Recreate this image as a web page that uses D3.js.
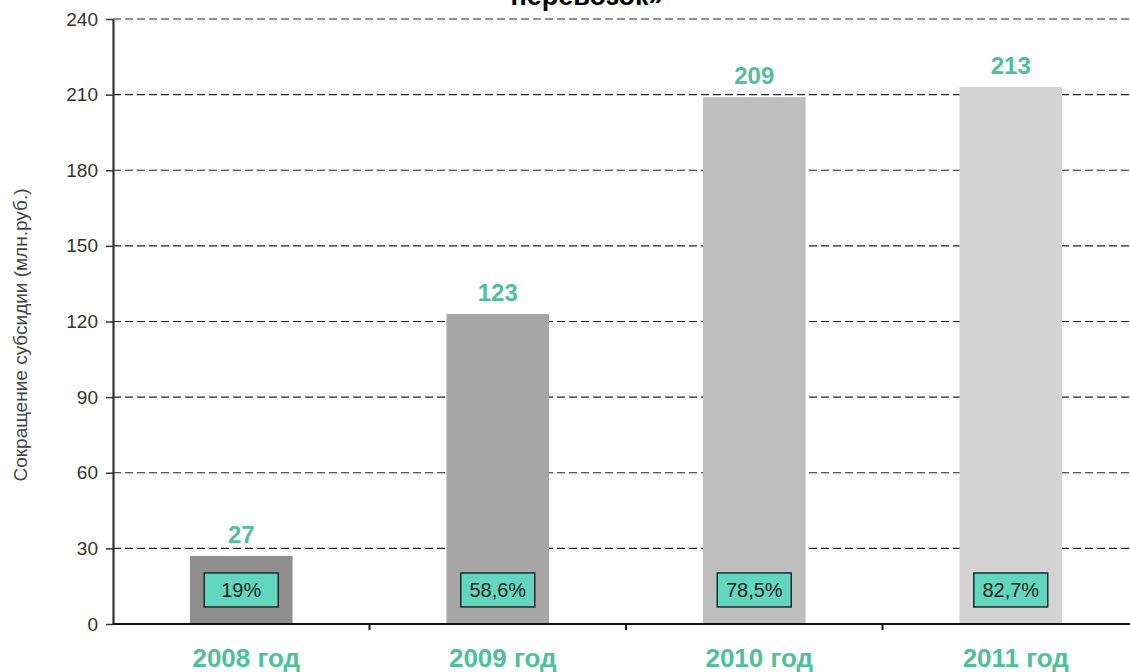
<!DOCTYPE html>
<html lang="ru">
<head>
<meta charset="utf-8">
<title>Сокращение субсидии</title>
<script src="https://d3js.org/d3.v7.min.js"></script>
<style>
  body { margin: 0; background: #fff; }
  svg { display: block; font-family: "Liberation Sans", Arial, sans-serif; }
</style>
</head>
<body>
<svg id="chart"></svg>
<script>
const width = 1130;
const height = 672;

const years = ["2008 год", "2009 год", "2010 год", "2011 год"];
const subsidyCut = [27, 123, 209, 213];
const shares = ["19%", "58,6%", "78,5%", "82,7%"];
const barColors = ["#8e8e8e", "#a6a6a6", "#bebebe", "#d3d3d3"];
const yTicks = [0, 30, 60, 90, 120, 150, 180, 210, 240];

const svg = d3.select("#chart")
    .attr("width", width)
    .attr("height", height);

const x = d3.scaleBand()
    .domain(years)
    .range([113, 1139])
    .paddingInner(0.6)
    .paddingOuter(0.3);

const y = d3.scaleLinear()
    .domain([0, 240])
    .range([624, 19]);

// title, only the last line fits into the picture
svg.append("text")
    .attr("x", 587)
    .attr("y", 5)
    .attr("text-anchor", "middle")
    .attr("font-size", 27)
    .attr("font-weight", "bold")
    .attr("fill", "#000")
    .text("перевозок»");

// dashed grid
svg.append("g")
    .selectAll("line")
    .data(yTicks.filter(d => d > 0))
    .enter()
    .append("line")
    .attr("x1", 113)
    .attr("x2", 1130)
    .attr("y1", d => y(d))
    .attr("y2", d => y(d))
    .attr("stroke", "#222")
    .attr("stroke-width", 1.2)
    .attr("stroke-dasharray", "8,4");

// bars
svg.append("g")
    .selectAll("rect")
    .data(subsidyCut)
    .enter()
    .append("rect")
    .attr("x", (d, i) => x(years[i]))
    .attr("y", d => y(d))
    .attr("width", x.bandwidth())
    .attr("height", d => y(0) - y(d))
    .attr("fill", (d, i) => barColors[i]);

// value labels above the bars
svg.append("g")
    .selectAll("text")
    .data(subsidyCut)
    .enter()
    .append("text")
    .attr("x", (d, i) => x(years[i]) + x.bandwidth() / 2)
    .attr("y", d => y(d) - 13)
    .attr("text-anchor", "middle")
    .attr("font-size", 24)
    .attr("font-weight", "bold")
    .attr("fill", "#4fbf9c")
    .text(d => d);

// percent boxes inside bars
const boxes = svg.append("g")
    .selectAll("g")
    .data(shares)
    .enter()
    .append("g")
    .attr("transform", (d, i) => `translate(${x(years[i]) + x.bandwidth() / 2}, ${y(13.5)})`);

boxes.append("rect")
    .attr("x", -37)
    .attr("y", -17)
    .attr("width", 74)
    .attr("height", 34)
    .attr("fill", "#63d6bf")
    .attr("stroke", "#1e2b28")
    .attr("stroke-width", 1.5);

boxes.append("text")
    .attr("y", 7)
    .attr("text-anchor", "middle")
    .attr("font-size", 20)
    .attr("fill", "#1c2422")
    .text(d => d);

// y axis
const yAxis = svg.append("g")
    .attr("transform", "translate(113,0)")
    .call(d3.axisLeft(y).tickValues(yTicks).tickSize(7).tickSizeOuter(0));
yAxis.select(".domain").attr("stroke", "#333").attr("stroke-width", 2.2);
yAxis.selectAll(".tick line").attr("stroke", "#333").attr("stroke-width", 1.5);
yAxis.selectAll(".tick text")
    .attr("x", -15)
    .attr("font-size", 19)
    .attr("fill", "#333")
    .attr("font-family", "Liberation Sans, Arial, sans-serif");

// x axis
svg.append("line")
    .attr("x1", 113)
    .attr("x2", 1130)
    .attr("y1", y(0))
    .attr("y2", y(0))
    .attr("stroke", "#111")
    .attr("stroke-width", 2);

svg.append("g")
    .selectAll("line")
    .data(years.slice(1))
    .enter()
    .append("line")
    .attr("x1", d => x(d) - x.step() * x.paddingInner() / 2)
    .attr("x2", d => x(d) - x.step() * x.paddingInner() / 2)
    .attr("y1", y(0))
    .attr("y2", y(0) + 6)
    .attr("stroke", "#111")
    .attr("stroke-width", 2);

svg.append("g")
    .selectAll("text")
    .data(years)
    .enter()
    .append("text")
    .attr("x", d => x(d) + x.bandwidth() / 2 + 5)
    .attr("y", 667)
    .attr("text-anchor", "middle")
    .attr("font-size", 26)
    .attr("font-weight", "bold")
    .attr("fill", "#4fbf9c")
    .text(d => d);

// y axis title
svg.append("text")
    .attr("transform", "translate(27,335) rotate(-90)")
    .attr("text-anchor", "middle")
    .attr("font-size", 19)
    .attr("fill", "#444")
    .text("Сокращение субсидии (млн.руб.)");
</script>
</body>
</html>
